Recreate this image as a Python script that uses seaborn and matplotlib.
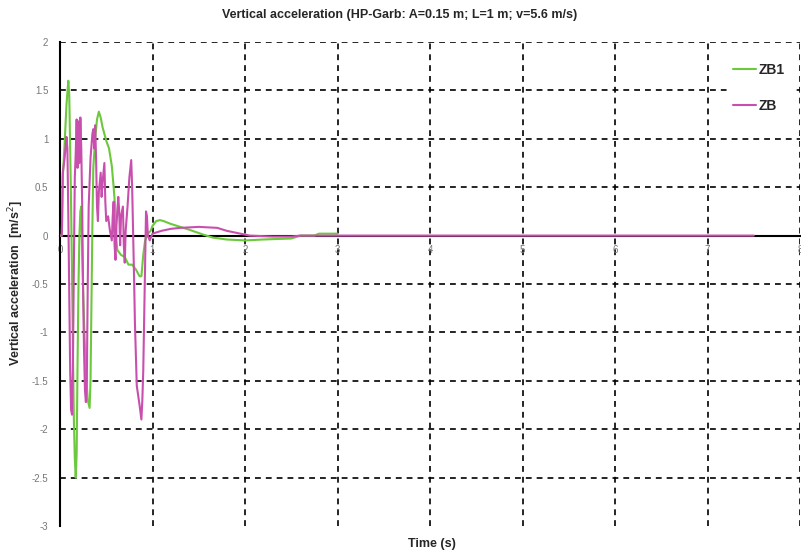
import pandas as pd
import matplotlib.pyplot as plt
import seaborn as sns

# time (s) and vertical acceleration (m/s^2)
t_zb1 = [0.00, 0.02, 0.03, 0.05, 0.07, 0.09, 0.10, 0.11, 0.12, 0.13, 0.14, 0.15, 0.16, 0.17,
         0.18, 0.19, 0.20, 0.21, 0.22, 0.23, 0.24, 0.26, 0.28, 0.30, 0.32, 0.33, 0.34, 0.35,
         0.36, 0.38, 0.40, 0.42, 0.44, 0.46, 0.50, 0.53, 0.56, 0.58, 0.60, 0.61, 0.62, 0.66,
         0.70, 0.74, 0.78, 0.82, 0.86, 0.88, 0.90, 0.92, 0.95, 0.98, 1.00, 1.04, 1.08, 1.12,
         1.20, 1.40, 1.55, 1.65, 1.80, 2.00, 2.20, 2.50, 2.60, 2.75, 2.80, 3.00]
zb1 = [0.00, 0.00, 0.60, 0.95, 1.35, 1.60, 1.45, 0.90, 0.30, -0.40, -1.20, -1.90, -2.30, -2.50,
       -2.25, -1.30, -0.50, 0.00, 0.25, 0.30, -0.20, -0.90, -1.40, -1.70, -1.78, -1.50, -0.70, 0.10,
       0.70, 1.00, 1.20, 1.28, 1.22, 1.12, 0.98, 0.90, 0.72, 0.50, 0.25, -0.05, -0.15, -0.20,
       -0.22, -0.30, -0.30, -0.35, -0.42, -0.42, -0.20, -0.05, 0.02, 0.05, 0.10, 0.15, 0.16, 0.15,
       0.12, 0.06, 0.01, -0.02, -0.04, -0.05, -0.04, -0.03, 0.00, 0.00, 0.02, 0.02]

t_zb = [0.00, 0.02, 0.03, 0.05, 0.07, 0.08, 0.09, 0.10, 0.11, 0.12, 0.13, 0.14, 0.15, 0.16,
        0.17, 0.18, 0.19, 0.20, 0.21, 0.22, 0.23, 0.24, 0.25, 0.26, 0.27, 0.28, 0.29, 0.30,
        0.31, 0.33, 0.35, 0.36, 0.37, 0.38, 0.39, 0.40, 0.41, 0.42, 0.44, 0.45, 0.46, 0.48,
        0.49, 0.50, 0.52, 0.54, 0.56, 0.57, 0.58, 0.59, 0.60, 0.61, 0.63, 0.64, 0.65, 0.66,
        0.68, 0.69, 0.70, 0.71, 0.73, 0.75, 0.77, 0.78, 0.80, 0.81, 0.83, 0.86, 0.88, 0.89,
        0.90, 0.92, 0.93, 0.94, 0.95, 0.97, 1.00, 1.10, 1.20, 1.30, 1.50, 1.70, 1.80, 1.95,
        2.05, 2.30, 2.50, 2.60, 7.50]
zb = [0.00, 0.00, 0.65, 0.80, 1.02, 0.90, 0.20, -0.60, -1.40, -1.80, -1.85, -1.30, -0.30, 0.60,
      0.85, 1.20, 0.70, 1.18, 0.75, 1.22, 0.90, 0.30, -0.60, -1.20, -1.60, -1.72, -1.50, -0.50,
      0.30, 0.80, 1.05, 1.10, 0.90, 1.14, 0.80, 0.30, 0.15, 0.45, 0.65, 0.40, 0.55, 0.75,
      0.35, 0.15, 0.20, 0.05, -0.05, 0.20, 0.35, -0.10, -0.25, 0.10, 0.40, 0.25, -0.10, 0.20,
      0.30, -0.10, -0.28, 0.05, 0.30, 0.60, 0.78, 0.50, -0.40, -0.90, -1.55, -1.75, -1.90, -1.70,
      -1.40, -0.30, 0.25, 0.20, 0.00, -0.05, 0.02, 0.05, 0.07, 0.08, 0.09, 0.08, 0.05, 0.02,
      0.00, -0.01, -0.01, 0.00, 0.00]

x_ticks = [0, 1, 2, 3, 4, 5, 6, 7, 8]
y_ticks = [-3, -2.5, -2, -1.5, -1, -0.5, 0, 0.5, 1, 1.5, 2]
y_tick_labels = ['-3', '-2.5', '-2', '-1.5', '-1', '-0.5', '0', '0.5', '1', '1.5', '2']

sns.set_style('white')
plt.rcParams['font.family'] = ['Liberation Sans Narrow', 'Liberation Sans', 'DejaVu Sans']

fig = plt.figure(figsize=(8.01, 5.55), dpi=100)
ax = fig.add_axes([60 / 801, 1 - 526 / 555, 740 / 801, 484 / 555])

df1 = pd.DataFrame({'Time': t_zb1, 'Acc': zb1})
df2 = pd.DataFrame({'Time': t_zb, 'Acc': zb})
sns.lineplot(data=df1, x='Time', y='Acc', color='#6cc83c', lw=1.5, label='ZB1', ax=ax, zorder=3)
sns.lineplot(data=df2, x='Time', y='Acc', color='#c94fae', lw=1.5, label='ZB', ax=ax, zorder=4)

ax.set_xlim(0, 8)
ax.set_ylim(-3, 2)
ax.set_xticks(x_ticks)
ax.set_xticklabels([str(v) for v in x_ticks])
ax.set_yticks(y_ticks)
ax.set_yticklabels(y_tick_labels)
ax.tick_params(axis='both', labelsize=7, labelcolor='#777777', color='black',
               direction='inout', length=5, width=1.2)
ax.tick_params(axis='y', pad=6)
ax.tick_params(axis='x', pad=4)

# x axis crosses at zero, no box around the plot
ax.spines['bottom'].set_position(('data', 0))
ax.spines['top'].set_visible(False)
ax.spines['right'].set_visible(False)
for s in ['left', 'bottom']:
    ax.spines[s].set_color('black')
    ax.spines[s].set_linewidth(1.5)
    ax.spines[s].set_zorder(2)

ax.grid(True, color='black', linestyle=(0, (3.5, 3)), linewidth=1.2)
ax.set_axisbelow(True)
ax.get_ygridlines()[0].set_visible(False)
ax.get_xgridlines()[0].set_visible(False)

ax.set_xlabel('')
ax.set_ylabel('')

leg = ax.legend(loc='upper left', bbox_to_anchor=(720 / 801, 1 - 50 / 555),
                bbox_transform=fig.transFigure, frameon=True, fancybox=False,
                framealpha=1, edgecolor='white', facecolor='white',
                handlelength=1.7, handletextpad=0.2, labelspacing=1.6,
                borderpad=0.4, prop={'weight': 'bold', 'size': 10})
leg.set_zorder(5)

fig.text(400 / 801, 1 - 15 / 555, 'Vertical acceleration (HP-Garb: A=0.15 m; L=1 m; v=5.6 m/s)',
         ha='center', va='center', fontsize=9, fontweight='bold')
fig.text(432 / 801, 1 - 544 / 555, 'Time (s)', ha='center', va='center',
         fontsize=9, fontweight='bold')
fig.text(16 / 801, 1 - 283 / 555, 'Vertical acceleration  [m/s$^2$]', ha='center', va='center',
         rotation=90, fontsize=9, fontweight='bold')

fig.savefig('out.png', dpi=100)
